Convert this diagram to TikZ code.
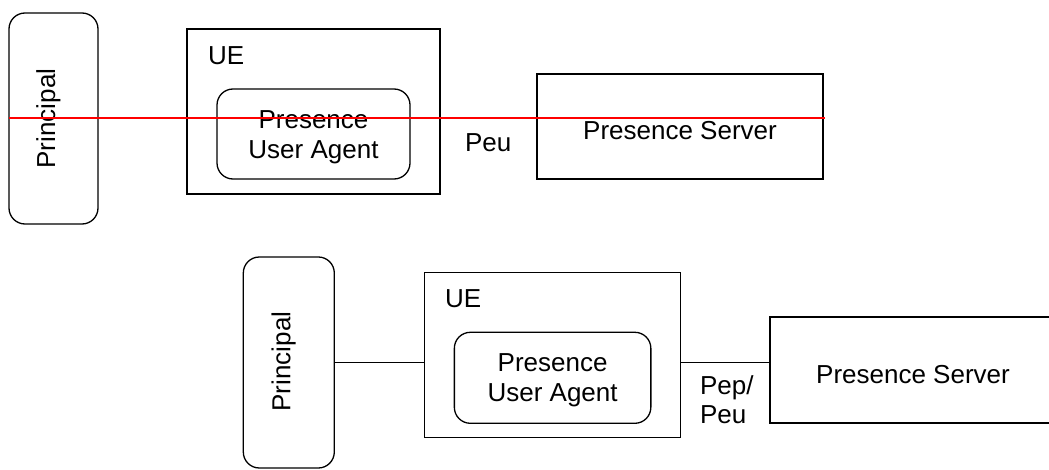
\documentclass[tikz,border=0pt]{standalone}
\usepackage{fontspec}
\setmainfont{Liberation Sans}
\begin{document}
\begin{tikzpicture}[x=1pt,y=1pt,
  every node/.style={inner sep=0pt, outer sep=0pt},
  sqbox/.style={draw=black, line width=1.3pt, rectangle},
  rndbox/.style={sqbox, rounded corners=16pt},
  lbl/.style={font=\fontsize{26}{30}\selectfont, text=black},
  link/.style={draw=black, line width=1.3pt},
  redline/.style={draw=red, line width=2pt}]
\clip (0,0) rectangle (1049,-470);
\fill[white] (0,0) rectangle (1049,-470);

% upper arrangement
\node[rndbox, minimum width=89pt, minimum height=211pt] (p1) at (53.5,-118.5) {};
\node[lbl, rotate=90, anchor=base] (p1t) at (55,-118.5) {Principal};
\node[sqbox, minimum width=253pt, minimum height=165pt] (ue1) at (313.5,-111.5) {};
\node[lbl, anchor=base west] (ue1t) at (208,-64.5) {UE};
\node[rndbox, minimum width=193pt, minimum height=90pt] (pua1) at (313.5,-134) {};
\node[lbl, anchor=base] (pua1a) at (313.5,-128.3) {Presence};
\node[lbl, anchor=base] (pua1b) at (313.5,-158.3) {User Agent};
\node[sqbox, minimum width=286pt, minimum height=105pt] (ps1) at (680,-126.5) {};
\node[lbl, anchor=base] (ps1t) at (680,-140) {Presence Server};
\node[lbl, anchor=base west] (peu1) at (465,-152) {Peu};
\draw[redline] (p1.west) -- ([xshift=2pt]p1.west -| ps1.east);

% lower arrangement
\node[rndbox, minimum width=91pt, minimum height=211pt] (p2) at (288.8,-362.5) {};
\node[lbl, rotate=90, anchor=base] (p2t) at (290.3,-361.5) {Principal};
\node[sqbox, minimum width=256pt, minimum height=165.5pt] (ue2) at (552.3,-355) {};
\node[lbl, anchor=base west] (ue2t) at (445,-307.3) {UE};
\node[rndbox, minimum width=196.5pt, minimum height=91pt] (pua2) at (552.6,-377.8) {};
\node[lbl, anchor=base] (pua2a) at (552.6,-371.7) {Presence};
\node[lbl, anchor=base] (pua2b) at (552.6,-401.7) {User Agent};
\node[sqbox, minimum width=286pt, minimum height=106pt] (ps2) at (913,-370) {};
\node[lbl, anchor=base] (ps2t) at (913,-383.3) {Presence Server};
\node[lbl, anchor=base west] (pep) at (700,-394.3) {Pep/};
\node[lbl, anchor=base west] (peu2) at (700,-423.3) {Peu};
\coordinate (lnk) at (0,-362.7);
\draw[link] (p2.east |- lnk) -- (ue2.west |- lnk);
\draw[link] (ue2.east |- lnk) -- (ps2.west |- lnk);
\end{tikzpicture}
\end{document}
